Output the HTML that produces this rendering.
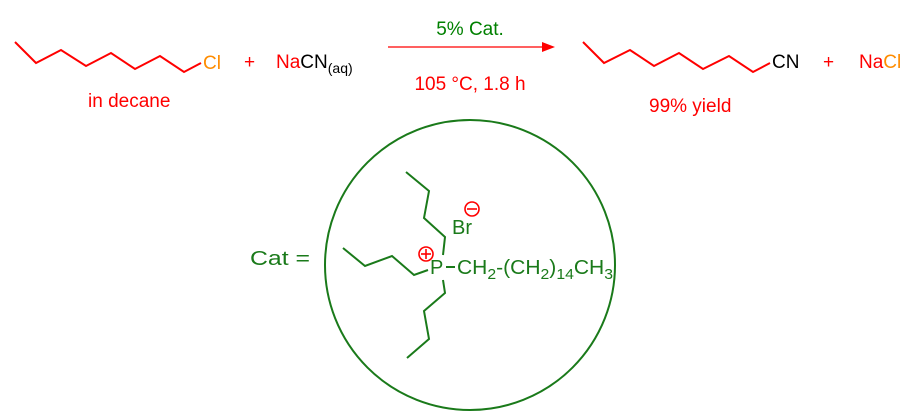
<!DOCTYPE html>
<html><head><meta charset="utf-8"><style>
html,body{margin:0;padding:0;background:#fff}
svg{display:block}
text{font-family:"Liberation Sans",Arial,sans-serif}
</style></head><body>
<svg width="910" height="417" viewBox="0 0 910 417" xmlns="http://www.w3.org/2000/svg">
<g fill="none" stroke="#ff0000" stroke-width="2">
<polyline points="15,42 36,63 61,50 86,66 111,53 135,69 160,56 184,72 201,63"/>
<polyline points="583,42 604,63 630,50 654,66 679,53 703,69 729,56 753,72 770,63"/>
<line x1="388" y1="47" x2="546" y2="47" stroke-width="1.3"/>
</g>
<polygon points="555,47 542,42 542,52" fill="#ff0000"/>
<g font-size="19" fill="#ff0000">
<text x="203" y="69" fill="#ff8c00">Cl</text>
<text x="244" y="68">+</text>
<text x="276" y="68">Na<tspan fill="#000">CN</tspan><tspan font-size="14" dy="5" fill="#000">(aq)</tspan></text>
<text x="88" y="107">in decane</text>
<text x="772" y="68" fill="#000">CN</text>
<text x="823" y="68">+</text>
<text x="859" y="68">Na<tspan fill="#ff8c00">Cl</tspan></text>
<text x="649" y="112">99% yield</text>
<text x="470" y="35" text-anchor="middle" fill="#008000">5% Cat.</text>
<text x="470" y="90" text-anchor="middle" fill="#ff0000">105 °C, 1.8 h</text>
</g>
<circle cx="470" cy="265" r="145" fill="none" stroke="#1a7a1a" stroke-width="2"/>
<g fill="none" stroke="#1a7a1a" stroke-width="2">
<polyline points="406,172 429,191 424,218 445,237 443,255"/>
<polyline points="343,248 365,266 392,256 414,275 428,270"/>
<polyline points="443,280 445,293 424,311 429,339 407,358"/>
<line x1="446" y1="267" x2="455" y2="267"/>
</g>
<g fill="#1a7a1a" font-size="20">
<text x="250" y="265" textLength="60" lengthAdjust="spacingAndGlyphs">Cat =</text>
<text x="430" y="274">P</text>
<text x="457" y="274" textLength="156" lengthAdjust="spacingAndGlyphs">CH<tspan font-size="15" dy="5">2</tspan><tspan dy="-5">-(CH</tspan><tspan font-size="15" dy="5">2</tspan><tspan dy="-5">)</tspan><tspan font-size="15" dy="5">14</tspan><tspan dy="-5">CH</tspan><tspan font-size="15" dy="5">3</tspan></text>
<text x="452" y="234">Br</text>
</g>
<g stroke="#ff0000" stroke-width="1.6" fill="none">
<circle cx="472" cy="209" r="7"/>
<line x1="467" y1="209" x2="477" y2="209"/>
<circle cx="426" cy="254" r="7"/>
<line x1="421" y1="254" x2="431" y2="254"/>
<line x1="426" y1="249" x2="426" y2="259"/>
</g>
</svg>
</body></html>
